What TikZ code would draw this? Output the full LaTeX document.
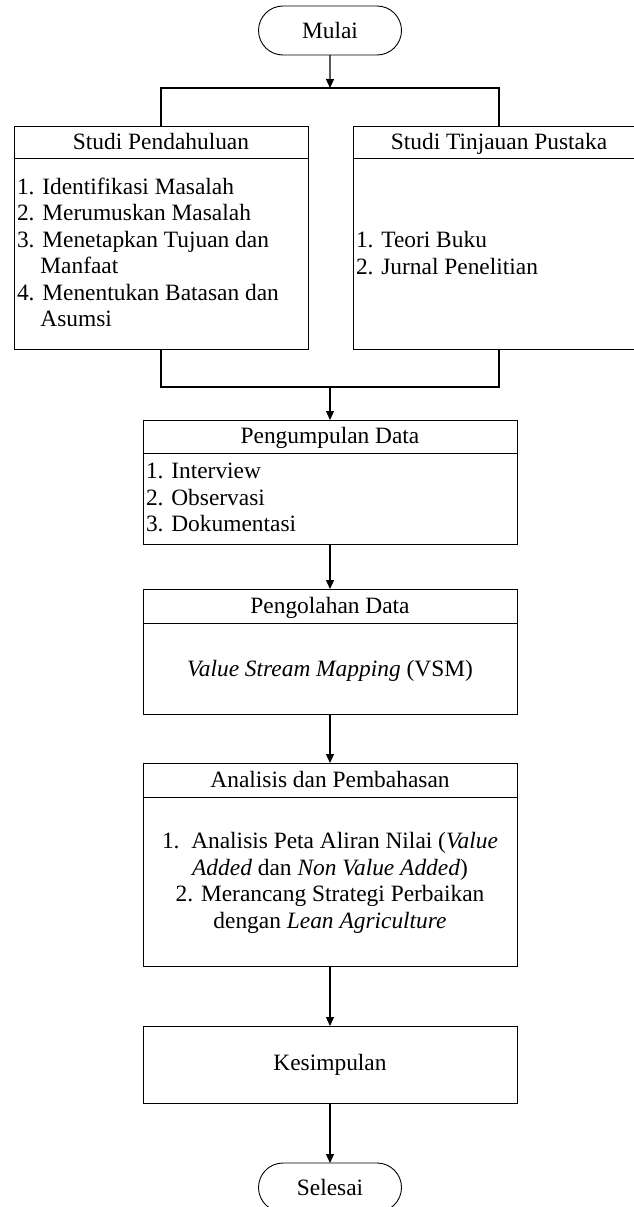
\documentclass[tikz,border=0pt]{standalone}
\usepackage{fontspec}
\setmainfont{Liberation Serif}
\usetikzlibrary{shapes.misc,arrows.meta}
\begin{document}
\begin{tikzpicture}[x=1pt,y=-1pt,
  txt/.style={font=\fontsize{23.4pt}{26.5pt}\selectfont, inner sep=0pt, outer sep=0pt},
  frame/.style={draw, line width=0.9pt, inner sep=0pt, outer sep=0pt},
  term/.style={frame, txt, rounded rectangle, minimum width=143pt, minimum height=49pt},
  conn/.style={line width=1.2pt},
  arr/.style={conn, -{Triangle[width=8pt,length=9pt]}}]
\useasboundingbox (0,0) rectangle (634,1207);
\clip (0,0) rectangle (634,1207);

% start
\node[term] (mulai) at (330,30.5) {Mulai};

% two study boxes
\node[frame, minimum width=294pt, minimum height=223pt] (sp) at (161,237.5) {};
\node[frame, minimum width=292pt, minimum height=223pt] (stp) at (499,237.5) {};
\draw[frame] (sp.west |- 0,158) -- (sp.east |- 0,158);
\draw[frame] (stp.west |- 0,158) -- (stp.east |- 0,158);
\node[txt, anchor=base] (sph) at (161,149) {Studi Pendahuluan};
\node[txt, anchor=base] (stph) at (499,149) {Studi Tinjauan Pustaka};
\node[txt, align=left, anchor=west] (spb) at (17,252.5) {1. Identifikasi Masalah\\2. Merumuskan Masalah\\3. Menetapkan Tujuan dan\\\phantom{3.\ }Manfaat\\4. Menentukan Batasan dan\\\phantom{4.\ }Asumsi};
\node[txt, align=left, anchor=west] (stpb) at (356,253) {1. Teori Buku\\2. Jurnal Penelitian};

\coordinate (split) at (330,88);
\draw[arr] (mulai) -- (split);
\draw[conn] (sp.north) |- (split) -| (stp.north);
\coordinate (join) at (330,387);
\draw[conn] (sp.south) |- (join) -| (stp.south);

% Pengumpulan Data
\node[frame, minimum width=374pt, minimum height=124pt] (pd) at (330,482) {};
\draw[frame] (pd.west |- 0,453) -- (pd.east |- 0,453);
\node[txt, anchor=base] (pdh) at (330,443.5) {Pengumpulan Data};
\node[txt, align=left, anchor=west] (pdb) at (146,497.5) {1. Interview\\2. Observasi\\3. Dokumentasi};
\draw[arr] (join) -- (pd);

% Pengolahan Data
\node[frame, minimum width=374pt, minimum height=125pt] (po) at (330,651.5) {};
\draw[frame] (po.west |- 0,623) -- (po.east |- 0,623);
\node[txt, anchor=base] (poh) at (330,613.5) {Pengolahan Data};
\node[txt, anchor=base] (pob) at (330,676) {\textit{Value Stream Mapping} (VSM)};
\draw[arr] (pd) -- (po);

% Analisis dan Pembahasan
\node[frame, minimum width=374pt, minimum height=203pt] (ap) at (330,864.5) {};
\draw[frame] (ap.west |- 0,797) -- (ap.east |- 0,797);
\node[txt, anchor=base] (aph) at (330,787.5) {Analisis dan Pembahasan};
\node[txt, align=center] (apb) at (330,883) {1.\ \ Analisis Peta Aliran Nilai (\textit{Value}\\\textit{Added} dan \textit{Non Value Added})\\2. Merancang Strategi Perbaikan\\dengan \textit{Lean Agriculture}};
\draw[arr] (po) -- (ap);

% Kesimpulan
\node[frame, txt, minimum width=374pt, minimum height=77pt] (ks) at (330,1064.5) {Kesimpulan};
\draw[arr] (ap) -- (ks);

% end
\node[term] (selesai) at (330,1187.5) {Selesai};
\draw[arr] (ks) -- (selesai);
\end{tikzpicture}
\end{document}
